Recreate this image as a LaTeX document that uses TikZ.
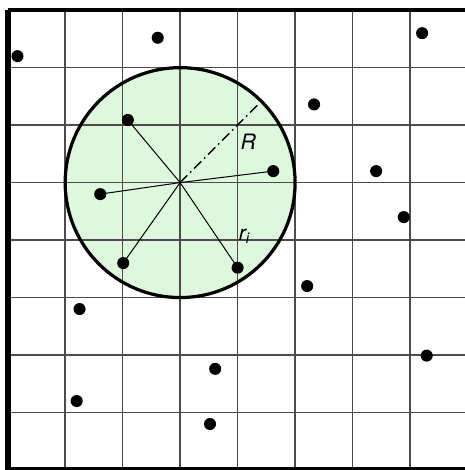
\documentclass[tikz,border=0pt]{standalone}
\usepackage{fontspec}
\setsansfont{TeX Gyre Heros}
\definecolor{discgreen}{RGB}{221,248,221}
\begin{document}
\begin{tikzpicture}[
        dot/.style={circle,fill=black,inner sep=0pt,minimum size=0.21cm},
        spoke/.style={line width=0.5pt},
        lbl/.style={inner sep=0pt,font=\sffamily\itshape\fontsize{10.5}{12}\selectfont}
    ]
        \useasboundingbox (-0.134,0) rectangle (7.953,8.177);
        \clip (-0.134,0) rectangle (7.953,8.177);
        % disc and grid
        \fill[discgreen] (3,5) circle (2);
        \draw[black!70,line width=0.8pt] (0,0) grid (8,8);
        \draw[line width=3pt] (8,0) -- (0,0) -- (0,8);
        \draw[line width=2pt] (0,8) -- (8,8);
        \draw[line width=1.6pt] (3,5) circle (2);
        \coordinate (c) at (3,5);
        \coordinate (rim) at (4.36,6.36);
        % particles
        \node[dot] (p1) at (0.17,7.2) {};
        \node[dot] (p2) at (2.61,7.52) {};
        \node[dot] (p3) at (7.21,7.6) {};
        \node[dot] (p4) at (2.09,6.09) {};
        \node[dot] (p5) at (5.33,6.36) {};
        \node[dot] (p6) at (1.61,4.8) {};
        \node[dot] (p7) at (4.62,5.2) {};
        \node[dot] (p8) at (6.41,5.2) {};
        \node[dot] (p9) at (6.89,4.4) {};
        \node[dot] (p10) at (2.01,3.6) {};
        \node[dot] (p11) at (4.0,3.52) {};
        \node[dot] (p12) at (5.21,3.2) {};
        \node[dot] (p13) at (1.25,2.8) {};
        \node[dot] (p14) at (7.29,1.99) {};
        \node[dot] (p15) at (3.61,1.76) {};
        \node[dot] (p16) at (1.2,1.2) {};
        \node[dot] (p17) at (3.52,0.8) {};
        % distances from the centre
        \draw[spoke] (c) -- (p4.center);
        \draw[spoke] (c) -- (p6.center);
        \draw[spoke] (c) -- (p7.center);
        \draw[spoke] (c) -- (p10.center);
        \draw[spoke] (c) -- (p11.center);
        \draw[line width=0.7pt,dash pattern=on 5pt off 2pt on 0.8pt off 2pt] (c) -- (rim);
        \node[lbl] (R) at (4.185,5.71) {R};
        \node[lbl] (ri) at (4.12,4.07) {r\textsubscript{i}};
    \end{tikzpicture}
\end{document}
